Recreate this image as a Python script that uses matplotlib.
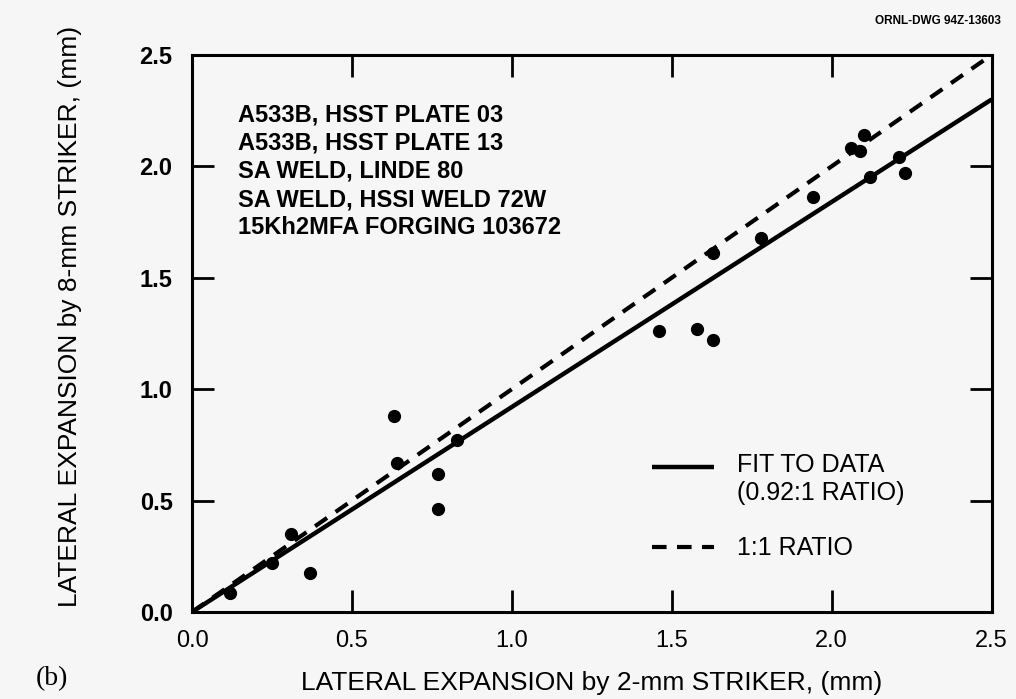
import matplotlib
matplotlib.use("Agg")
import matplotlib.pyplot as plt
from matplotlib.legend_handler import HandlerLine2D

# lateral expansion, 2-mm striker (x) vs 8-mm striker (y), mm
lat_exp_2mm = [0.12, 0.25, 0.31, 0.37, 0.63, 0.64, 0.77, 0.77, 0.83, 1.46, 1.58,
               1.63, 1.63, 1.78, 1.94, 2.06, 2.09, 2.10, 2.12, 2.21, 2.23]
lat_exp_8mm = [0.085, 0.22, 0.35, 0.175, 0.88, 0.67, 0.62, 0.46, 0.77, 1.26, 1.27,
               1.22, 1.61, 1.68, 1.86, 2.08, 2.07, 2.14, 1.95, 2.04, 1.97]

fit_x = [0.0, 2.5]
fit_y = [0.0, 2.3]      # 0.92:1 ratio
ratio_x = [0.0, 2.5]
ratio_y = [0.0, 2.5]    # 1:1 ratio

materials = ["A533B, HSST PLATE 03",
             "A533B, HSST PLATE 13",
             "SA WELD, LINDE 80",
             "SA WELD, HSSI WELD 72W",
             "15Kh2MFA FORGING 103672"]

ticks = [0.0, 0.5, 1.0, 1.5, 2.0, 2.5]
tick_labels = ["0.0", "0.5", "1.0", "1.5", "2.0", "2.5"]

bg = "#f6f6f6"
plain = ["Liberation Sans", "DejaVu Sans"]


class RaisedLine(HandlerLine2D):
    # put the legend sample beside the first line of a two-line label
    def __init__(self, shift, **kw):
        super().__init__(**kw)
        self.shift = shift

    def create_artists(self, legend, orig_handle, xdescent, ydescent,
                       width, height, fontsize, trans):
        return super().create_artists(legend, orig_handle, xdescent, ydescent,
                                      width, height + 2 * self.shift,
                                      fontsize, trans)


fig = plt.figure(figsize=(10.16, 6.99), dpi=100, facecolor=bg)
ax = fig.add_axes([0.189, 0.1245, 0.787, 0.797], facecolor=bg)

fit_line, = ax.plot(fit_x, fit_y, color="black", lw=3.2, solid_capstyle="butt",
                    label="FIT TO DATA\n(0.92:1 RATIO)")
ax.plot(ratio_x, ratio_y, color="black", lw=3.0, dashes=(3.5, 2.5),
        label="1:1 RATIO")
ax.plot(lat_exp_2mm, lat_exp_8mm, "o", color="black", ms=8.5, zorder=5)

ax.set_xlim(0, 2.5)
ax.set_ylim(0, 2.5)
ax.set_xticks(ticks)
ax.set_yticks(ticks)
ax.set_xticklabels(tick_labels, family=plain, fontsize=17)
ax.set_yticklabels(tick_labels, family=plain, fontsize=17, fontweight="bold")
ax.tick_params(direction="in", length=16, width=2, top=True, right=True,
               labeltop=False, labelright=False)
ax.tick_params(axis="x", pad=13)
ax.tick_params(axis="y", pad=14)
for sp in ax.spines.values():
    sp.set_linewidth(2.2)

ax.set_xlabel("LATERAL EXPANSION by 2-mm STRIKER, (mm)", family=plain,
              fontsize=19, labelpad=14)
ax.set_ylabel("LATERAL EXPANSION by 8-mm STRIKER, (mm)", family=plain,
              fontsize=19)
ax.yaxis.set_label_coords(-0.137, 0.53)

ax.text(0.058, 0.912, "\n".join(materials), transform=ax.transAxes,
        family=plain, fontsize=17, fontweight="bold", va="top", ha="left",
        linespacing=1.28)

leg = ax.legend(loc="upper left", bbox_to_anchor=(0.575, 0.285), frameon=False,
                prop={"family": plain, "size": 18}, handlelength=2.5,
                handletextpad=0.9, labelspacing=1.25, borderpad=0,
                borderaxespad=0, handler_map={fit_line: RaisedLine(shift=9)})

fig.text(0.035, 0.02, "(b)", family=["Liberation Serif", "DejaVu Serif"],
         fontsize=20)
fig.text(0.985, 0.965, "ORNL-DWG 94Z-13603", family=plain, fontsize=8.5,
         fontweight="bold", ha="right")

fig.savefig("out.png", dpi=100, facecolor=bg)
